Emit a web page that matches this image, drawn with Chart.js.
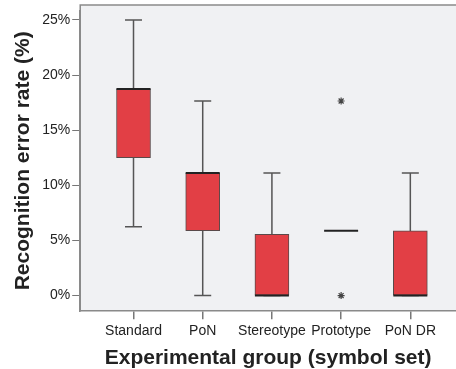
<!DOCTYPE html>
<html>
<head>
<meta charset="utf-8">
<script src="https://cdn.jsdelivr.net/npm/chart.js@4"></script>
<style>
  html, body { margin: 0; padding: 0; background: #fff; }
  #wrap { width: 456px; height: 369px; }
</style>
</head>
<body>
<div id="wrap"><canvas id="chart"></canvas></div>
<script>
const groups = ['Standard', 'PoN', 'Stereotype', 'Prototype', 'PoN DR'];
const whiskerLow  = [6.25, 0, 0, 5.88, 0];
const q1          = [12.5, 5.88, 0, 5.88, 0];
const median      = [18.75, 11.11, 0, 5.88, 0];
const q3          = [18.75, 11.11, 5.56, 5.88, 5.88];
const whiskerHigh = [25, 17.65, 11.11, 5.88, 11.11];
const outlierGroup = [4, 4];
const outlierValue = [17.65, 0];
const yTicks = [0, 5, 10, 15, 20, 25];
const frameTop = 26.36; // plot frame reaches a bit above the scale's top

const boxPlugin = {
  id: 'boxParts',
  beforeDraw(chart) {
    const { ctx, chartArea: a, scales: { y } } = chart;
    const top = Math.round(y.getPixelForValue(frameTop));
    ctx.save();
    ctx.fillStyle = '#f0f1f3';
    ctx.fillRect(a.left, top, chart.width - a.left, a.bottom - top);
    ctx.strokeStyle = '#8a8a8a';
    ctx.lineWidth = 1.5;
    ctx.beginPath();
    ctx.moveTo(a.left, a.bottom);
    ctx.lineTo(a.left, top);
    ctx.lineTo(chart.width, top);
    ctx.stroke();
    ctx.restore();
  },
  beforeDatasetsDraw(chart) {
    const { ctx, scales: { x, y } } = chart;
    ctx.save();
    ctx.strokeStyle = '#555';
    ctx.lineWidth = 1.5;
    groups.forEach((g, i) => {
      const cx = x.getPixelForValue(i + 1);
      const lo = y.getPixelForValue(whiskerLow[i]);
      const hi = y.getPixelForValue(whiskerHigh[i]);
      if (whiskerLow[i] === whiskerHigh[i]) return;
      ctx.beginPath();
      ctx.moveTo(cx, lo); ctx.lineTo(cx, hi);
      ctx.moveTo(cx - 8.5, lo); ctx.lineTo(cx + 8.5, lo);
      ctx.moveTo(cx - 8.5, hi); ctx.lineTo(cx + 8.5, hi);
      ctx.stroke();
    });
    ctx.restore();
  },
  afterDatasetsDraw(chart) {
    const { ctx, scales: { x, y } } = chart;
    ctx.save();
    ctx.strokeStyle = '#222';
    ctx.lineWidth = 2;
    groups.forEach((g, i) => {
      const cx = x.getPixelForValue(i + 1);
      const m = y.getPixelForValue(median[i]);
      ctx.beginPath();
      ctx.moveTo(cx - 17, m); ctx.lineTo(cx + 17, m);
      ctx.stroke();
    });
    ctx.restore();
  }
};

new Chart(document.getElementById('chart'), {
  data: {
    datasets: [{
      type: 'bar',
      data: groups.map((g, i) => ({ x: i + 1, y: [q1[i], q3[i]] })),
      backgroundColor: '#e23f45',
      borderColor: '#5a4a4a',
      borderWidth: 1,
      borderSkipped: false,
      barThickness: 34
    }, {
      type: 'scatter',
      data: outlierGroup.map((g, i) => ({ x: g, y: outlierValue[i] })),
      pointStyle: 'star',
      radius: 3.5,
      hoverRadius: 3.5,
      borderColor: '#444',
      borderWidth: 1.2
    }]
  },
  plugins: [boxPlugin],
  options: {
    responsive: true,
    maintainAspectRatio: false,
    animation: false,
    layout: { autoPadding: false, padding: { left: 11, top: 0, right: 0, bottom: 0 } },
    plugins: { legend: { display: false }, tooltip: { enabled: false } },
    scales: {
      x: {
        type: 'linear',
        offset: false,
        min: 0.23,
        max: 5.66,
        afterBuildTicks: s => { s.ticks = groups.map((g, i) => ({ value: i + 1 })); },
        ticks: {
          callback: v => groups[v - 1],
          color: '#222',
          font: { family: 'Liberation Sans, Arial', size: 14 },
          padding: 4,
          maxRotation: 0,
          autoSkip: false
        },
        grid: { offset: false, drawOnChartArea: false, tickLength: 8, color: '#777', lineWidth: 1.5 },
        border: { color: '#8a8a8a', width: 1.5 },
        title: {
          display: true,
          text: 'Experimental group (symbol set)',
          color: '#222',
          font: { family: 'Liberation Sans, Arial', size: 21, weight: 'bold', lineHeight: 1 },
          padding: { top: 4, bottom: 0 }
        }
      },
      y: {
        min: -1.42,
        max: 25.87,
        afterBuildTicks: s => { s.ticks = yTicks.map(v => ({ value: v })); },
        ticks: {
          callback: v => v + '%',
          color: '#222',
          font: { family: 'Liberation Sans, Arial', size: 14 },
          padding: 2
        },
        grid: { drawOnChartArea: false, tickLength: 8, color: '#777', lineWidth: 1 },
        border: { color: '#8a8a8a', width: 1.5 },
        title: {
          display: true,
          text: 'Recognition error rate (%)',
          color: '#222',
          font: { family: 'Liberation Sans, Arial', size: 21, weight: 'bold' },
          padding: { top: 0, bottom: 4 }
        }
      }
    }
  }
});
</script>
</body>
</html>
